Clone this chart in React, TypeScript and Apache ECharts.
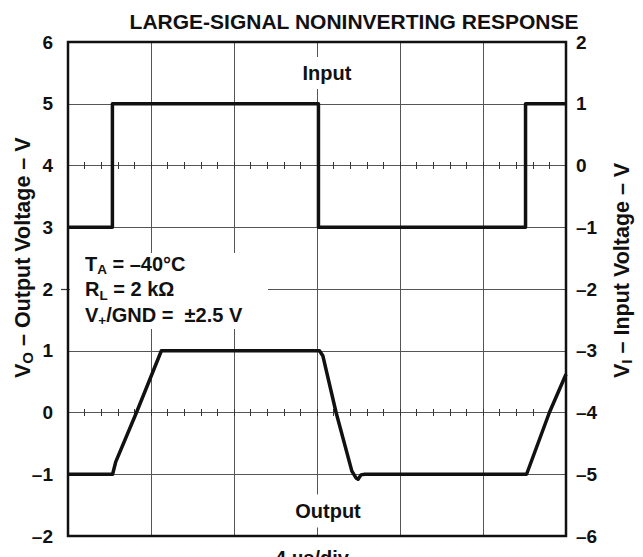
import React, { useEffect, useRef } from 'react';
import * as echarts from 'echarts';

const FONT = '"Liberation Sans", Arial, Helvetica, sans-serif';
const INK = '#111';
const GRIDC = '#555';

const TITLE = 'LARGE-SIGNAL NONINVERTING RESPONSE';

// time axis in microseconds, 4 µs per division
const timeMin = 0;
const timeMax = 24;
const timePerDiv = 4;

// left axis (output) and right axis (input)
const outputMin = -2;
const outputMax = 6;
const inputMin = -6;
const inputMax = 2;
const outerTickValues = [2];

// Input trace (right axis, V)
const inputTime = [0, 2.14, 2.14, 12.07, 12.07, 22.05, 22.05, 24];
const inputVolts = [-1, -1, 1, 1, -1, -1, 1, 1];

// Output trace (left axis, V)
const outputTime = [0, 2.15, 2.3, 3.3, 4.5, 12.12, 12.28, 12.92, 13.68, 13.88, 13.98, 14.12, 14.3, 22.1, 23.2, 24];
const outputVolts = [-1, -1, -0.8, 0, 1, 1, 0.92, 0, -0.95, -1.06, -1.08, -1.01, -1, -1, 0, 0.62];

const annotationLines = [
  ['T', 'A', ' = \u201340\u00B0C'],
  ['R', 'L', ' = 2 k\u03A9'],
  ['V', '+', '/GND =  \u00B12.5 V'],
];

const leftAxisName = ['V', 'O', ' \u2013 Output Voltage \u2013 V'];
const rightAxisName = ['V', 'I', ' \u2013 Input Voltage \u2013 V'];
const timeLabel = '4 \u00B5s/div\u2192';

const fmt = (v: number) => (v < 0 ? '\u2013' + Math.abs(v) : String(v));

const richStyles = (size: number, sub: number, lh: number) => ({
  m: { fontSize: size, fontWeight: 'bold', fontFamily: FONT, fill: INK, color: INK, lineHeight: lh, verticalAlign: 'middle' },
  s: { fontSize: sub, fontWeight: 'bold', fontFamily: FONT, fill: INK, color: INK, verticalAlign: 'bottom' },
});

const toRich = (parts: string[]) => `{m|${parts[0]}}{s|${parts[1]}}{m|${parts[2]}}`;

export default function App() {
  const ref = useRef<HTMLDivElement>(null);
  useEffect(() => {
    if (!ref.current) return;
    const chart = echarts.init(ref.current, undefined, { renderer: 'svg' });

    const tickAxis = (zeroIdx: number, inside: boolean) => ({
      type: 'value',
      min: timeMin,
      max: timeMax,
      interval: timePerDiv,
      position: 'bottom',
      axisLine: { show: false, onZero: true, onZeroAxisIndex: zeroIdx },
      axisTick: { show: true, inside, length: 3.5, lineStyle: { color: '#333', width: 1 } },
      minorTick: { show: true, splitNumber: 5, length: 3.5, lineStyle: { color: '#333', width: 1 } },
      axisLabel: { show: false },
      splitLine: { show: false },
    });

    const option: any = {
      animation: false,
      backgroundColor: '#fff',
      grid: {
        left: 68,
        right: 77,
        top: 42,
        bottom: 21,
        show: true,
        borderColor: INK,
        borderWidth: 2.5,
        backgroundColor: 'transparent',
        z: 3,
      },
      xAxis: [
        {
          type: 'value',
          min: timeMin,
          max: timeMax,
          interval: timePerDiv,
          position: 'bottom',
          axisLine: { show: false, onZero: false },
          axisTick: { show: false },
          axisLabel: { show: false },
          splitLine: { show: true, showMinLine: false, showMaxLine: false, lineStyle: { color: GRIDC, width: 1 } },
        },
        tickAxis(0, true),
        tickAxis(0, false),
        tickAxis(1, true),
        tickAxis(1, false),
      ],
      yAxis: [
        {
          type: 'value',
          position: 'left',
          min: outputMin,
          max: outputMax,
          interval: 1,
          axisLine: { show: false, onZero: false },
          axisTick: { show: false },
          axisLabel: { show: true, margin: 15, fontSize: 19, fontWeight: 'bold', fontFamily: FONT, color: INK, formatter: fmt },
          splitLine: { show: true, showMinLine: false, showMaxLine: false, lineStyle: { color: GRIDC, width: 1 } },
        },
        {
          type: 'value',
          position: 'right',
          min: inputMin,
          max: inputMax,
          interval: 1,
          axisLine: { show: false, onZero: false },
          axisTick: { show: false },
          axisLabel: { show: true, margin: 10, fontSize: 19, fontWeight: 'bold', fontFamily: FONT, color: INK, formatter: fmt },
          splitLine: { show: false },
        },
        {
          type: 'value',
          position: 'left',
          min: outputMin,
          max: outputMax,
          interval: 1,
          axisLine: { show: false, onZero: false },
          axisTick: { show: true, customValues: outerTickValues, length: 7, lineStyle: { color: '#333', width: 1.2 } },
          axisLabel: { show: false },
          splitLine: { show: false },
        },
      ],
      series: [
        {
          name: 'Input',
          type: 'line',
          xAxisIndex: 0,
          yAxisIndex: 1,
          showSymbol: false,
          z: 4,
          lineStyle: { color: INK, width: 3.5, join: 'round' },
          data: inputTime.map((t, i) => [t, inputVolts[i]]),
        },
        {
          name: 'Output',
          type: 'line',
          xAxisIndex: 0,
          yAxisIndex: 0,
          showSymbol: false,
          z: 4,
          lineStyle: { color: INK, width: 3.5, join: 'round' },
          data: outputTime.map((t, i) => [t, outputVolts[i]]),
        },
      ],
      graphic: [
        {
          type: 'text',
          x: 354,
          y: 21,
          style: { text: TITLE, fontSize: 21, fontWeight: 'bold', fontFamily: FONT, fill: INK, align: 'center', verticalAlign: 'middle' },
        },
        {
          type: 'text',
          x: 327,
          y: 73,
          z: 10,
          style: {
            text: 'Input', fontSize: 20, fontWeight: 'bold', fontFamily: FONT, fill: INK,
            align: 'center', verticalAlign: 'middle', backgroundColor: '#fff', padding: [7, 3, 5, 3],
          },
        },
        {
          type: 'text',
          x: 328,
          y: 511,
          z: 10,
          style: {
            text: 'Output', fontSize: 20, fontWeight: 'bold', fontFamily: FONT, fill: INK,
            align: 'center', verticalAlign: 'middle', backgroundColor: '#fff', padding: [7, 3, 6, 3],
          },
        },
        {
          type: 'rect',
          z: 10,
          shape: { x: 70, y: 253, width: 198, height: 76 },
          style: { fill: '#fff' },
        },
        {
          type: 'text',
          x: 85,
          y: 251,
          z: 11,
          style: {
            text: annotationLines.map(toRich).join('\n'),
            rich: richStyles(20, 13.5, 25.5),
            align: 'left',
            verticalAlign: 'top',
          },
        },
        {
          type: 'text',
          x: 23,
          y: 378,
          rotation: Math.PI / 2,
          style: { text: toRich(leftAxisName), rich: richStyles(21.5, 15, 24), align: 'left', verticalAlign: 'middle' },
        },
        {
          type: 'text',
          x: 622,
          y: 378,
          rotation: Math.PI / 2,
          style: { text: toRich(rightAxisName), rich: richStyles(21.5, 15, 24), align: 'left', verticalAlign: 'middle' },
        },
        {
          type: 'text',
          x: 322,
          y: 548,
          style: { text: timeLabel, fontSize: 20, fontWeight: 'bold', fontFamily: FONT, fill: INK, align: 'center', verticalAlign: 'top' },
        },
      ],
    };
    chart.setOption(option);
    return () => chart.dispose();
  }, []);
  return <div ref={ref} style={{ position: 'fixed', left: 0, top: 0, width: 643, height: 557, background: '#fff' }} />;
}
